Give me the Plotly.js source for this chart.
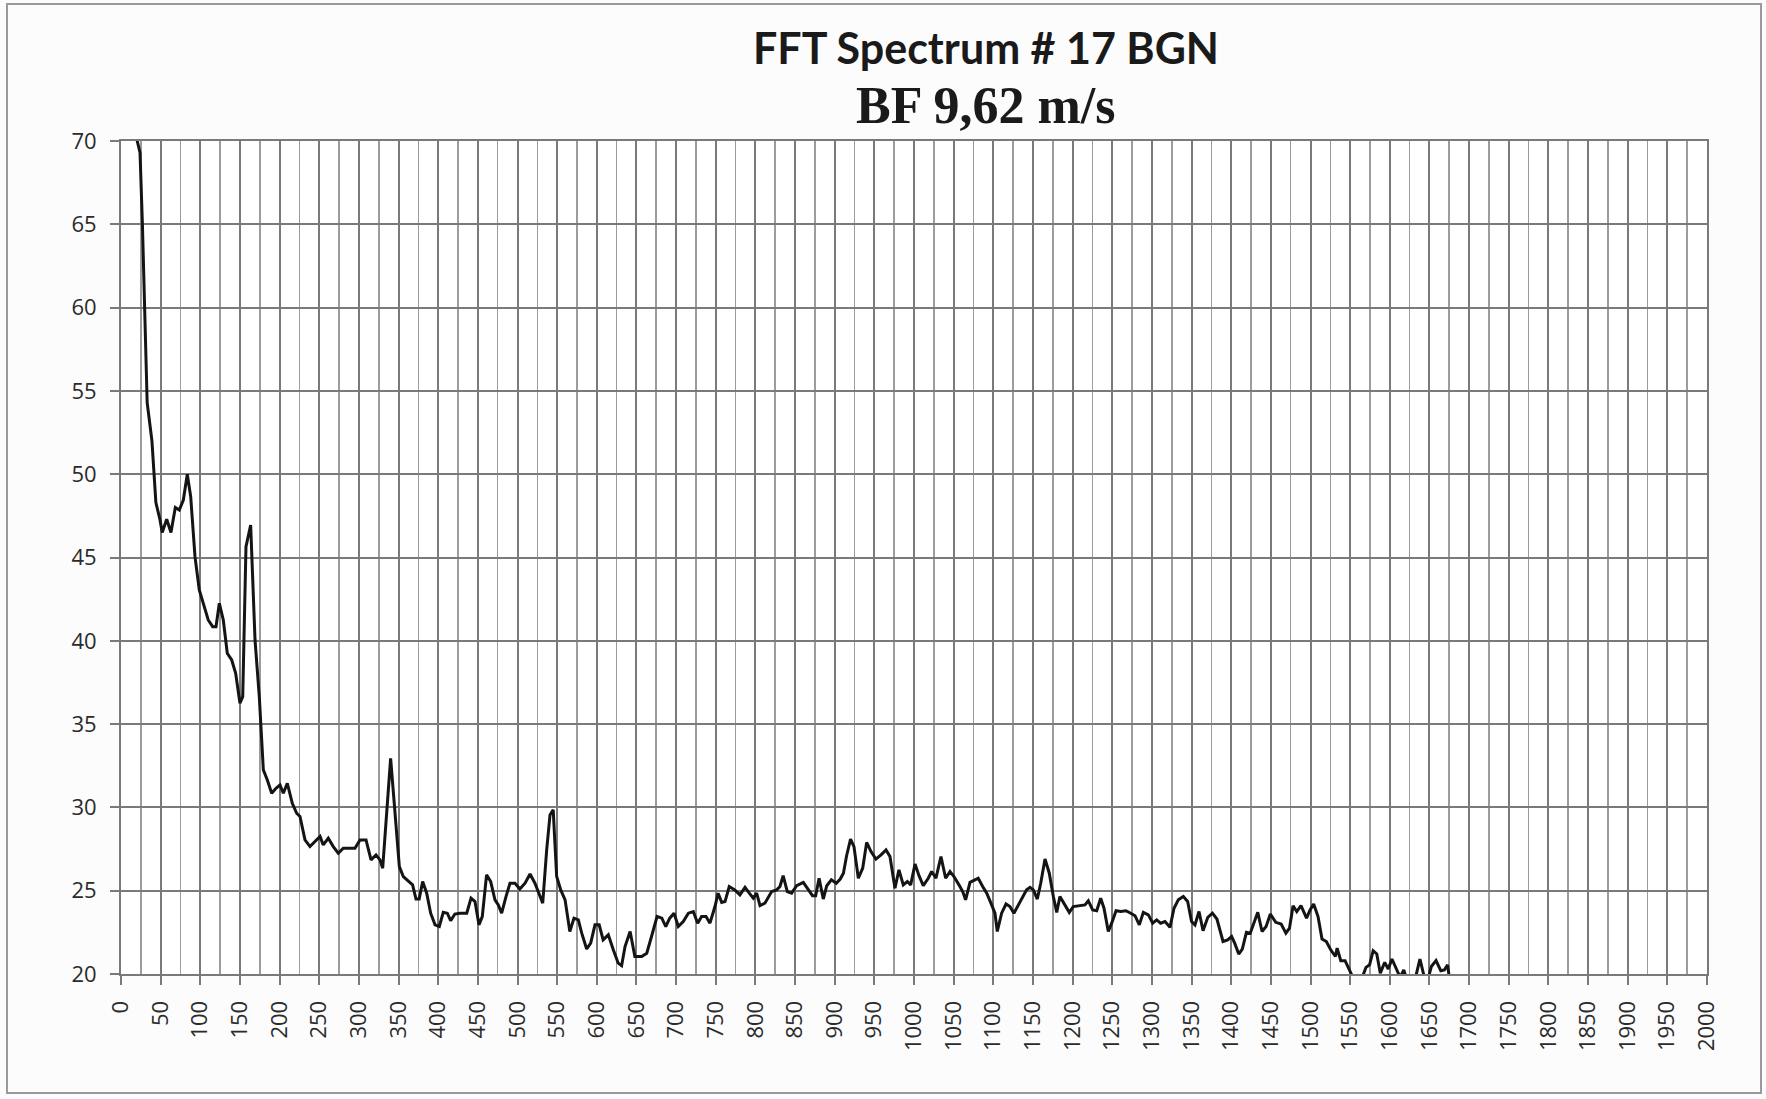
<!DOCTYPE html>
<html>
<head>
<meta charset="utf-8">
<script src="https://cdn.plot.ly/plotly-3.0.1.min.js"></script>
<style>
  html, body { margin: 0; padding: 0; background: #fcfcfc; }
  #chart { width: 1766px; height: 1099px; }
</style>
</head>
<body>
<div id="chart"></div>
<script>
// Frequency (x) and amplitude (y)
const freq = [
  13, 24, 27, 30, 33, 39, 44, 49, 52, 57.6, 63, 68.5, 73.5, 78.6, 83.6, 87.9, 93.3, 98.7, 103.8, 110,
  115.6, 119.8, 124, 129, 134, 139.6, 144.6, 150, 153.5, 157.6, 163.5, 169, 174.4, 179.5, 184.5, 190, 195.5, 200.5, 204.7, 209.7,
  216, 221.5, 225.7, 232, 238.3, 244.6, 251, 255, 261.4, 267.7, 274, 280.3, 287, 295, 301.4, 309, 315.3, 321.6, 326.6, 330,
  340, 345.5, 351, 356, 362.3, 367.7, 372, 376, 380.4, 385.5, 390.5, 396, 401.4, 406.4, 411.5, 415.7, 421, 427.5, 436, 441.4,
  446.4, 451.4, 455.6, 461, 466.2, 471.6, 475.8, 480, 485.5, 490.5, 496.8, 503, 509.5, 515.8, 522, 527.5, 531.8, 536.8, 541, 545,
  549.4, 554.5, 560, 566, 571.2, 576.7, 581, 587.2, 592.3, 597.7, 603, 608, 614.5, 620.8, 627, 631.3, 635.6, 642, 648, 656.6,
  663, 669, 676, 682, 687, 692, 697.4, 702.8, 709, 715.5, 721.7, 727.2, 732.2, 737.7, 742.7, 749, 753, 757.5, 761.7, 767,
  774, 780.5, 786.9, 792.3, 797.4, 801.6, 805.8, 812, 820.5, 826.8, 831, 835, 840.2, 845.7, 852, 860.4, 866, 872, 876, 880.3,
  885.6, 890, 895.8, 902, 907, 911, 915, 920, 924.3, 929.8, 935.3, 940.3, 945.8, 952, 958.4, 964.7, 969.7, 976, 981, 986.5,
  991.6, 995.8, 1001.3, 1006.3, 1011.7, 1018, 1022.3, 1027.7, 1034, 1039.9, 1045.4, 1050.4, 1056.7, 1061.4, 1065.1, 1070.6, 1076.9, 1081, 1086.6, 1091.7,
  1097, 1102.1, 1105, 1110.5, 1116, 1121, 1126, 1131.5, 1137, 1142, 1146.3, 1150.5, 1155.5, 1159.8, 1165.2, 1170.6, 1175.7, 1180, 1184, 1190.4,
  1195.8, 1200.9, 1209.3, 1215.6, 1219.8, 1225.3, 1230.4, 1235.4, 1239.6, 1245, 1249.3, 1254.8, 1260.7, 1267.3, 1273.3, 1278.7, 1284.1, 1289.2, 1295.5, 1301,
  1306, 1311, 1316.5, 1322.8, 1327.9, 1333.3, 1339.6, 1345.1, 1350, 1354.3, 1359.4, 1364.5, 1370.5, 1376.3, 1382, 1389.7, 1395.6, 1400.5, 1404.4, 1409.5,
  1414, 1419.2, 1424, 1433.5, 1438.9, 1444, 1449.4, 1456.2, 1463, 1469, 1473.5, 1478, 1482.7, 1488, 1495, 1499.5, 1504, 1509.5, 1514.5, 1520,
  1525.5, 1531.4, 1533.6, 1538.2, 1543.6, 1549.5, 1555.4, 1564.4, 1570, 1574.5, 1579, 1583.6, 1588, 1593.6, 1598, 1602.7, 1608.6, 1613, 1617.6, 1621.2,
  1632, 1638, 1643.3, 1649, 1652.4, 1658.3, 1664.3, 1668.8, 1672.9, 1675
];
const amplitude = [
  71.5, 69.3, 65.0, 60.0, 54.3, 52.0, 48.3, 47.3, 46.5, 47.3, 46.5, 48.0, 47.85, 48.45, 50.0, 48.65, 45.05, 43.05, 42.25, 41.25,
  40.85, 40.85, 42.25, 41.25, 39.25, 38.85, 38.05, 36.25, 36.65, 45.65, 46.95, 40.05, 36.65, 32.25, 31.65, 30.85, 31.15, 31.35, 30.85, 31.45,
  30.25, 29.65, 29.45, 28.05, 27.65, 27.95, 28.25, 27.75, 28.15, 27.65, 27.25, 27.55, 27.55, 27.55, 28.05, 28.05, 26.85, 27.15, 26.85, 26.35,
  32.95, 29.65, 26.45, 25.85, 25.55, 25.35, 24.5, 24.5, 25.55, 24.85, 23.65, 22.95, 22.85, 23.7, 23.65, 23.2, 23.6, 23.65, 23.65, 24.55,
  24.35, 22.95, 23.45, 25.95, 25.55, 24.45, 24.15, 23.65, 24.65, 25.45, 25.45, 25.1, 25.45, 26.0, 25.45, 24.75, 24.25, 27.45, 29.55, 29.85,
  25.85, 25.05, 24.45, 22.55, 23.35, 23.25, 22.45, 21.5, 21.85, 22.95, 22.95, 22.05, 22.35, 21.45, 20.65, 20.5, 21.65, 22.55, 21.05, 21.05,
  21.25, 22.25, 23.45, 23.35, 22.85, 23.35, 23.65, 22.85, 23.15, 23.65, 23.75, 23.05, 23.45, 23.45, 23.05, 24.05, 24.85, 24.3, 24.35, 25.25,
  25.05, 24.75, 25.2, 24.85, 24.55, 24.85, 24.1, 24.25, 24.95, 25.05, 25.25, 25.9, 24.95, 24.85, 25.3, 25.5, 25.1, 24.7, 24.7, 25.75,
  24.5, 25.3, 25.65, 25.45, 25.7, 26.05, 27.1, 28.1, 27.65, 25.75, 26.35, 27.9, 27.35, 26.9, 27.15, 27.45, 27.05, 25.15, 26.25, 25.35,
  25.55, 25.35, 26.6, 25.9, 25.3, 25.75, 26.15, 25.75, 27.05, 25.75, 26.15, 25.85, 25.35, 24.95, 24.45, 25.5, 25.65, 25.75, 25.25, 24.85,
  24.25, 23.65, 22.55, 23.65, 24.2, 24.05, 23.65, 24.15, 24.65, 25.05, 25.2, 25.05, 24.5, 25.45, 26.9, 26.05, 24.65, 23.7, 24.65, 24.15,
  23.7, 24.05, 24.1, 24.15, 24.4, 23.85, 23.8, 24.55, 23.95, 22.55, 23.05, 23.8, 23.75, 23.8, 23.65, 23.5, 22.95, 23.7, 23.55, 23.05,
  23.25, 23.05, 23.15, 22.8, 23.95, 24.45, 24.65, 24.35, 23.15, 22.95, 23.75, 22.6, 23.4, 23.65, 23.3, 21.95, 22.05, 22.25, 21.85, 21.2,
  21.5, 22.5, 22.45, 23.7, 22.55, 22.85, 23.6, 23.1, 23.0, 22.45, 22.75, 24.1, 23.75, 24.1, 23.35, 23.85, 24.2, 23.45, 22.1, 21.95,
  21.45, 21.05, 21.55, 20.8, 20.8, 20.25, 19.6, 19.7, 20.4, 20.55, 21.4, 21.2, 20.05, 20.7, 20.3, 20.9, 20.25, 19.8, 20.25, 19.7,
  19.7, 20.9, 19.85, 19.85, 20.45, 20.8, 20.2, 20.25, 20.55, 19.8
];

// Axis ticks
const xTicks = [0, 50, 100, 150, 200, 250, 300, 350, 400, 450, 500, 550, 600, 650, 700, 750, 800, 850, 900, 950,
  1000, 1050, 1100, 1150, 1200, 1250, 1300, 1350, 1400, 1450, 1500, 1550, 1600, 1650, 1700, 1750, 1800, 1850, 1900, 1950, 2000];
const yTicks = [20, 25, 30, 35, 40, 45, 50, 55, 60, 65, 70];

const titleLine1 = 'FFT Spectrum # 17 BGN';
const titleLine2 = 'BF 9,62 m/s';

// Layout geometry (pixels)
const W = 1766, H = 1099;
const M = { l: 121, r: 59, t: 141, b: 125 };
const PW = W - M.l - M.r, PH = H - M.t - M.b;
const px = v => (v - M.l) / PW;          // pixel x -> paper x
const py = v => (H - M.b - v) / PH;      // pixel y -> paper y

const gridMajor = '#7a7a7a';
const gridMinor = '#9c9c9c';
const tickFont = { family: 'Open Sans, Lato, sans-serif', size: 22, color: '#2b2b2b' };

const trace = {
  type: 'scatter',
  mode: 'lines',
  x: freq,
  y: amplitude,
  line: { color: '#141414', width: 3 },
  hoverinfo: 'x+y',
  showlegend: false
};

const layout = {
  width: W,
  height: H,
  margin: { l: M.l, r: M.r, t: M.t, b: M.b, pad: 0 },
  paper_bgcolor: '#fcfcfc',
  plot_bgcolor: '#ffffff',
  showlegend: false,
  title: {
    text: '<b>' + titleLine1 + '</b>',
    font: { family: 'Lato, Open Sans, sans-serif', size: 43, color: '#1a1a1a' },
    xref: 'container', x: 986 / W, xanchor: 'center',
    yref: 'container', y: 1 - 49 / H, yanchor: 'middle'
  },
  annotations: [{
    text: '<b>' + titleLine2 + '</b>',
    font: { family: 'Liberation Serif, DejaVu Serif, serif', size: 52, color: '#1a1a1a' },
    xref: 'paper', x: px(986), xanchor: 'center',
    yref: 'paper', y: py(106), yanchor: 'middle',
    showarrow: false
  }],
  xaxis: {
    range: [0, 2000],
    tickmode: 'array',
    tickvals: xTicks,
    ticktext: xTicks.map(String),
    tickangle: -90,
    ticks: 'outside', ticklen: 9, tickwidth: 2, tickcolor: gridMajor,
    ticklabelstandoff: 7,
    tickfont: tickFont,
    showgrid: true, gridcolor: gridMajor, gridwidth: 2,
    minor: { dtick: 25, tick0: 0, showgrid: true, gridcolor: gridMinor, gridwidth: 1.6, ticks: '' },
    showline: true, linecolor: gridMajor, linewidth: 2, mirror: true,
    zeroline: false, fixedrange: true
  },
  yaxis: {
    range: [20, 70],
    tickmode: 'array',
    tickvals: yTicks,
    ticktext: yTicks.map(String),
    ticks: 'outside', ticklen: 9, tickwidth: 2, tickcolor: gridMajor,
    ticklabelstandoff: 9,
    tickfont: tickFont,
    showgrid: true, gridcolor: gridMajor, gridwidth: 2,
    showline: true, linecolor: gridMajor, linewidth: 2, mirror: true,
    zeroline: false, fixedrange: true
  },
  shapes: [{
    type: 'rect', xref: 'paper', yref: 'paper', layer: 'below',
    x0: px(7), x1: px(1761), y0: py(1093), y1: py(4),
    line: { color: '#9a9a9a', width: 2 }
  }]
};

Plotly.newPlot('chart', [trace], layout, { staticPlot: true, displayModeBar: false });
</script>
</body>
</html>
